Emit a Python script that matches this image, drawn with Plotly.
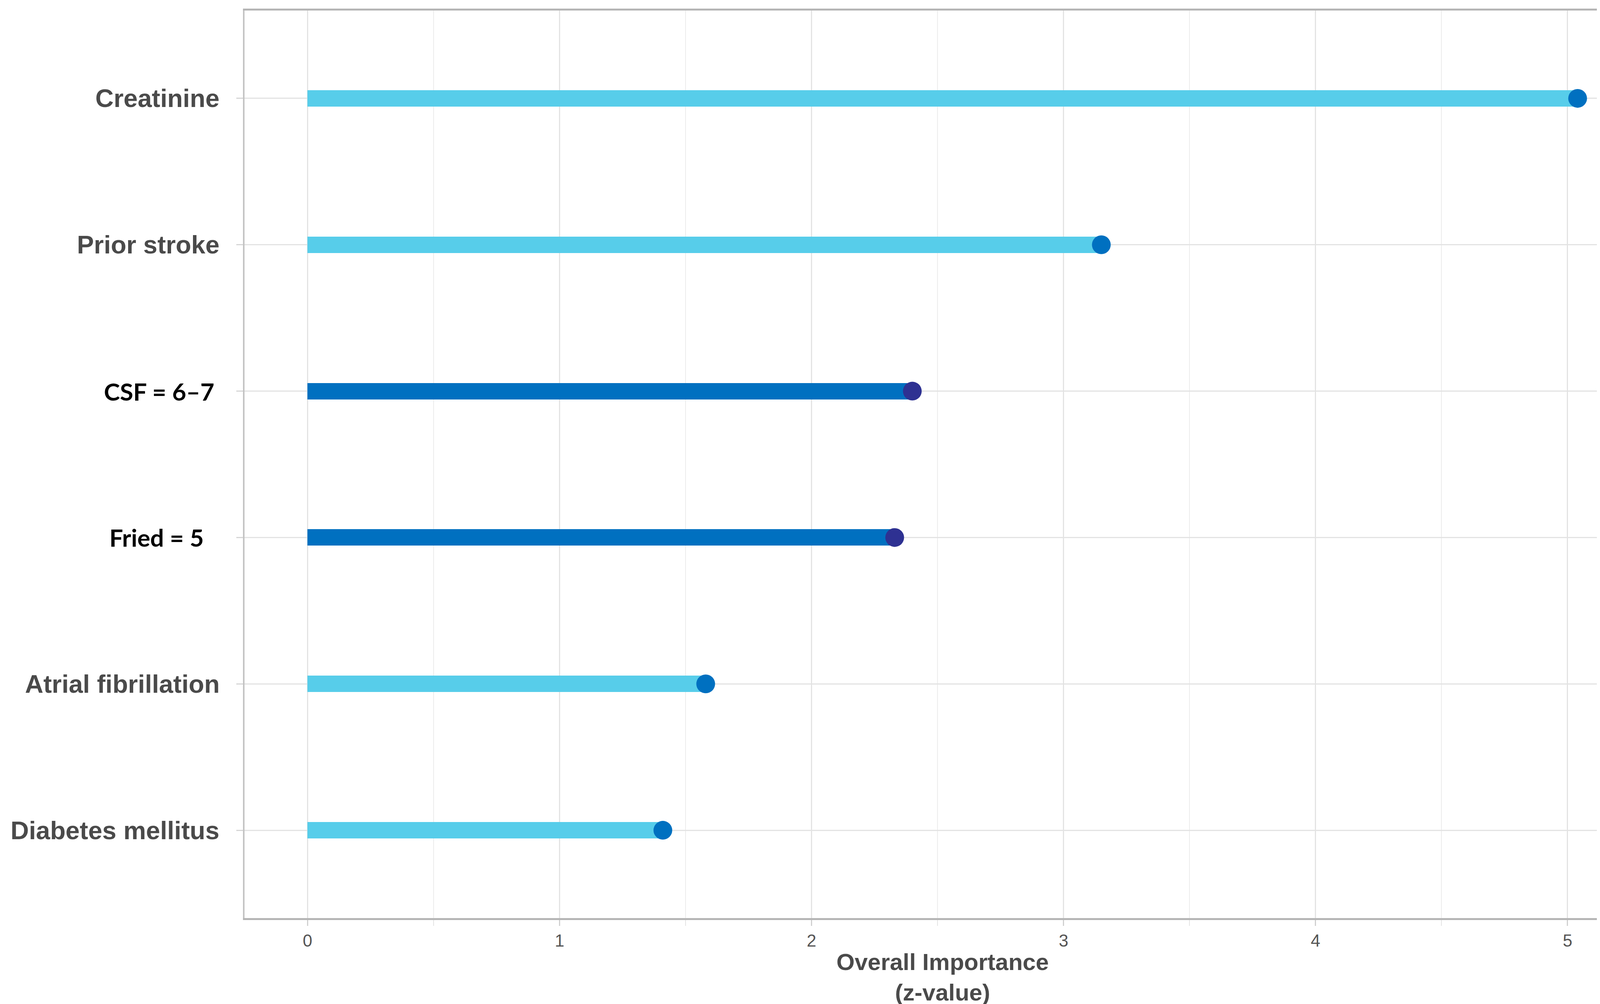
import plotly.graph_objects as go

features = ["Creatinine", "Prior stroke", "CSF = 6–7", "Fried = 5", "Atrial fibrillation", "Diabetes mellitus"]
z_values = [5.04, 3.15, 2.40, 2.33, 1.58, 1.41]
highlight = [False, False, True, True, False, False]
x_ticks = [0, 1, 2, 3, 4, 5]

BAR_LIGHT = "#57CDEA"
DOT_LIGHT = "#0070C0"
BAR_DARK = "#0070C0"
DOT_DARK = "#2E3192"

bar_colors = [BAR_DARK if h else BAR_LIGHT for h in highlight]
dot_colors = [DOT_DARK if h else DOT_LIGHT for h in highlight]

fig = go.Figure()
fig.add_trace(go.Bar(
    x=z_values, y=features, orientation="h", base=0,
    width=0.112, marker=dict(color=bar_colors, line=dict(width=0)),
    showlegend=False, hoverinfo="skip"))
fig.add_trace(go.Scatter(
    x=z_values, y=features, mode="markers",
    marker=dict(size=48, color=dot_colors, line=dict(width=0)),
    showlegend=False))

# category labels as annotations (mixed fonts like the reference)
for f, h in zip(features, highlight):
    if h:
        shift = -75 if f.startswith("CSF") else -102
        fig.add_annotation(
            x=0, xref="paper", y=f, yref="y", xanchor="right", yanchor="middle",
            xshift=shift, showarrow=False, text="<b>%s</b>" % f,
            font=dict(family="Lato", size=62, color="#000000"))
    else:
        fig.add_annotation(
            x=0, xref="paper", y=f, yref="y", xanchor="right", yanchor="middle",
            xshift=-62, showarrow=False, text="<b>%s</b>" % f,
            font=dict(family="Liberation Sans", size=65, color="#4a4a4a"))

fig.update_layout(
    width=4213, height=2571,
    margin=dict(l=618, r=21, t=19, b=228),
    plot_bgcolor="white", paper_bgcolor="white",
    bargap=0,
)
fig.update_xaxes(
    range=[-0.25, 5.29], tickvals=x_ticks, ticktext=[str(t) for t in x_ticks],
    showgrid=True, gridcolor="#e3e3e3", gridwidth=3,
    minor=dict(dtick=0.5, showgrid=True, gridcolor="#ececec", gridwidth=2,
               ticks="outside", ticklen=15, tickcolor="#e3e3e3", tickwidth=2),
    ticks="outside", ticklen=15, tickcolor="#d0d0d0", tickwidth=3,
    tickfont=dict(family="Liberation Sans", size=44, color="#555555"),
    showline=True, linecolor="#b5b5b5", linewidth=5, mirror=True,
    zeroline=False,
    title=dict(text="<b>Overall Importance</b><br><b>(z-value)</b>",
               font=dict(family="Liberation Sans", size=60, color="#4a4a4a"),
               standoff=12),
)
fig.update_yaxes(
    categoryorder="array", categoryarray=features[::-1],
    range=[-0.6, 5.6], showticklabels=False,
    showgrid=True, gridcolor="#e3e3e3", gridwidth=3,
    ticks="outside", ticklen=17, tickcolor="#d6d6d6", tickwidth=3,
    showline=True, linecolor="#c4c4c4", linewidth=4, mirror=True,
    zeroline=False,
)

fig.write_html("out.html")
